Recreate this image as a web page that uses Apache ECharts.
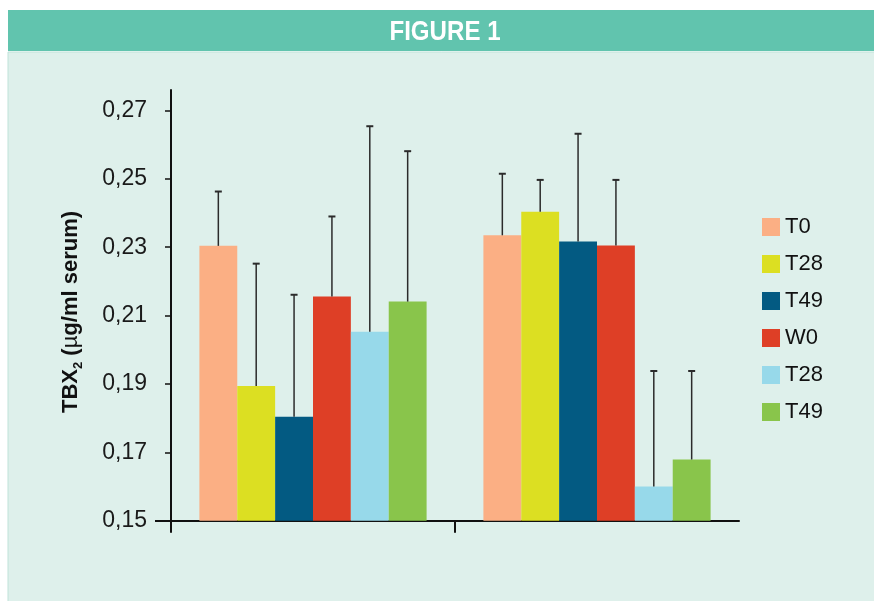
<!DOCTYPE html>
<html>
<head>
<meta charset="utf-8">
<script src="https://cdn.jsdelivr.net/npm/echarts@6/dist/echarts.min.js"></script>
<style>html,body{margin:0;padding:0;background:#fff}#c{width:874px;height:601px}</style>
</head>
<body>
<div id="c"></div>
<script>
// ---- data ----
var categories = ['Group 1', 'Group 2'];
var seriesKeys = ['T0', 'T28', 'T49', 'W0', 'T28b', 'T49b'];
var seriesLabels = ['T0', 'T28', 'T49', 'W0', 'T28', 'T49'];
var seriesColors = ['#FBAF84', '#DCDF22', '#035A82', '#DE3F26', '#97D9EA', '#89C54B'];
var valT0   = [0.2304, 0.2335];
var valT28  = [0.1894, 0.2404];
var valT49  = [0.1804, 0.2317];
var valW0   = [0.2156, 0.2305];
var valT28b = [0.2053, 0.1600];
var valT49b = [0.2141, 0.1679];
var errT0   = [0.0159, 0.0180];
var errT28  = [0.0358, 0.0093];
var errT49  = [0.0357, 0.0315];
var errW0   = [0.0234, 0.0192];
var errT28b = [0.0601, 0.0338];
var errT49b = [0.0440, 0.0259];
var yTicks = [0.15, 0.17, 0.19, 0.21, 0.23, 0.25, 0.27];

var values = [valT0, valT28, valT49, valW0, valT28b, valT49b];
var errors = [errT0, errT28, errT49, errW0, errT28b, errT49b];
var labelMap = {};
seriesKeys.forEach(function (k, i) { labelMap[k] = seriesLabels[i]; });

var barGroupRatio = 0.8;
var nSeries = seriesKeys.length;

var series = seriesKeys.map(function (k, i) {
  return {
    name: k, type: 'bar', data: values[i],
    barGap: 0, barCategoryGap: '20%',
    itemStyle: { color: seriesColors[i] },
    z: 2
  };
});

var errData = [];
for (var s = 0; s < nSeries; s++) {
  for (var c = 0; c < categories.length; c++) {
    errData.push([c, values[s][c], errors[s][c], s]);
  }
}

series.push({
  type: 'custom', name: 'err', z: 5,
  encode: { x: 0, y: 1 },
  data: errData,
  renderItem: function (params, api) {
    var cat = api.value(0), v = api.value(1), e = api.value(2), si = api.value(3);
    var band = api.size([1, 0])[0];
    var bw = band * barGroupRatio / nSeries;
    var base = api.coord([cat, v]);
    var top = api.coord([cat, v + e]);
    var x = base[0] - band * barGroupRatio / 2 + bw * (si + 0.5);
    var style = { stroke: '#2b2b2b', lineWidth: 1.5 };
    return {
      type: 'group',
      children: [
        { type: 'line', shape: { x1: x, y1: base[1], x2: x, y2: top[1] }, style: style },
        { type: 'line', shape: { x1: x - 3.5, y1: top[1], x2: x + 3.5, y2: top[1] }, style: { stroke: '#2b2b2b', lineWidth: 2 } }
      ]
    };
  }
});

function fmt(v) { return v.toFixed(2).replace('.', ','); }

var chart = echarts.init(document.getElementById('c'), null, { renderer: 'canvas' });
chart.setOption({
  backgroundColor: '#ffffff',
  animation: false,
  graphic: [
    { type: 'rect', z: -10, shape: { x: 8, y: 52, width: 870, height: 560 },
      style: { fill: '#DEF0EB', stroke: '#BFE2D9', lineWidth: 1 } },
    { type: 'rect', z: -9, shape: { x: 8, y: 10, width: 870, height: 41 },
      style: { fill: '#61C4AE' } },
    { type: 'text', z: 10, x: 445, y: 32, scaleX: 0.86,
      style: { text: 'FIGURE 1', fill: '#ffffff', font: 'bold 28px "Liberation Sans", Arial, sans-serif',
        textAlign: 'center', textVerticalAlign: 'middle' } },
    { type: 'text', z: 10, x: 70, y: 312, rotation: Math.PI / 2,
      style: {
        text: '{b|TBX}{s|2}{b| (}{m|µ}{b|g/ml serum)}',
        textAlign: 'center', textVerticalAlign: 'middle',
        rich: {
          b: { font: 'bold 22px "Liberation Sans", Arial, sans-serif', fill: '#111', lineHeight: 24, verticalAlign: 'bottom' },
          m: { font: '22px "Liberation Sans", Arial, sans-serif', fill: '#111', lineHeight: 24, verticalAlign: 'bottom' },
          s: { font: 'bold 13px "Liberation Sans", Arial, sans-serif', fill: '#111', lineHeight: 24, verticalAlign: 'bottom', padding: [0, 0, -3, 0] }
        }
      } }
  ],
  legend: {
    orient: 'vertical', left: 762, top: 216, padding: 0,
    data: seriesKeys,
    itemWidth: 18, itemHeight: 18, itemGap: 15,
    icon: 'rect',
    formatter: function (name) { return labelMap[name]; },
    textStyle: { fontFamily: '"Liberation Sans", Arial, sans-serif', fontSize: 22, color: '#111', lineHeight: 22 }
  },
  grid: { left: 171, right: 135, top: 90, bottom: 80.3, containLabel: false },
  xAxis: [
    {
      type: 'category', data: categories, boundaryGap: true,
      axisLine: { lineStyle: { color: '#111', width: 2 } },
      axisTick: { show: false },
      axisLabel: { show: false },
      splitLine: { show: false }
    },
    {
      type: 'value', min: 0, max: 2, position: 'bottom',
      axisLine: { show: false },
      axisTick: { show: true, customValues: [0, 1], length: 12, lineStyle: { color: '#111', width: 2 } },
      axisLabel: { show: false },
      splitLine: { show: false }
    }
  ],
  yAxis: [
    {
      type: 'value', min: 0.15, max: 0.276,
      axisLine: { show: true, lineStyle: { color: '#111', width: 2 } },
      axisTick: { show: true, customValues: yTicks, length: 6, lineStyle: { color: '#111', width: 1.5 } },
      axisLabel: { customValues: yTicks, formatter: fmt, margin: 24,
        fontFamily: '"Liberation Sans", Arial, sans-serif', fontSize: 23, color: '#1a1a1a' },
      splitLine: { show: false }
    },
    {
      type: 'value', min: 0.15, max: 0.276, position: 'left',
      axisLine: { show: false },
      axisTick: { show: true, customValues: [0.15], length: 16, lineStyle: { color: '#111', width: 2 } },
      axisLabel: { show: false },
      splitLine: { show: false }
    }
  ],
  series: series
});
</script>
</body>
</html>
